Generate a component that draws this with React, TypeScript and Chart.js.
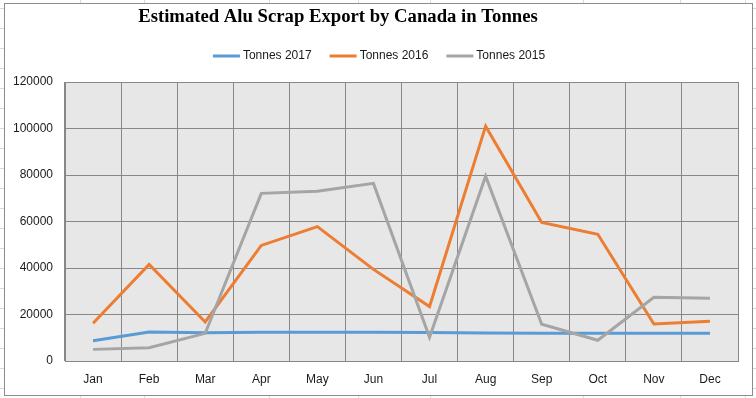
import React, { useEffect, useRef } from "react";
import { Chart, registerables } from "chart.js";

Chart.register(...registerables);

const titleText = "Estimated Alu Scrap Export by Canada in Tonnes";
const months = ["Jan", "Feb", "Mar", "Apr", "May", "Jun", "Jul", "Aug", "Sep", "Oct", "Nov", "Dec"];
const seriesNames = ["Tonnes 2017", "Tonnes 2016", "Tonnes 2015"];
const tonnes2017 = [8700, 12500, 12200, 12400, 12400, 12400, 12300, 12000, 11900, 11900, 11900, 11900];
const tonnes2016 = [16200, 41500, 16800, 49700, 57800, 39400, 23400, 101000, 59600, 54500, 15900, 17100];
const tonnes2015 = [5000, 5700, 11900, 72100, 73000, 76400, 10200, 79500, 15800, 8900, 27400, 27000];
const yMin = 0;
const yMax = 120000;
const yStep = 20000;

const colors = ["#5b9bd5", "#ed7d31", "#a5a5a5"];
const gridColor = "#878787";
const textColor = "#1a1a1a";
const sansFont = "'Liberation Sans', Arial, sans-serif";

const decorPlugin = {
  id: "decor",
  beforeDraw(chart: any) {
    const { ctx, chartArea } = chart;
    ctx.save();
    ctx.fillStyle = "#e7e7e7";
    ctx.fillRect(chartArea.left, chartArea.top, chartArea.right - chartArea.left, chartArea.bottom - chartArea.top);
    ctx.restore();
  },
  afterDraw(chart: any) {
    const { ctx } = chart;
    ctx.save();
    // Title
    ctx.font = "bold 18.7px 'Liberation Serif', 'Times New Roman', serif";
    ctx.fillStyle = "#000";
    ctx.textAlign = "center";
    ctx.textBaseline = "alphabetic";
    ctx.fillText(titleText, 333, 18);
    // Legend
    ctx.font = "12px " + sansFont;
    const lineW = 27;
    const gap = 3;
    const itemGap = 18;
    const widths = seriesNames.map((n) => lineW + gap + ctx.measureText(n).width);
    const total = widths.reduce((a, b) => a + b, 0) + itemGap * (widths.length - 1);
    let x = 374 - total / 2;
    const y = 52;
    seriesNames.forEach((n, i) => {
      ctx.fillStyle = colors[i];
      ctx.fillRect(x, y - 1.5, lineW, 3);
      ctx.fillStyle = textColor;
      ctx.textAlign = "left";
      ctx.textBaseline = "middle";
      ctx.fillText(n, x + lineW + gap, y);
      x += widths[i] + itemGap;
    });
    ctx.restore();
  },
};

function ChartView() {
  const ref = useRef<HTMLCanvasElement | null>(null);
  useEffect(() => {
    if (!ref.current) return;
    const mk = (label: string, data: number[], i: number, order: number) => ({
      label,
      data,
      borderColor: colors[i],
      backgroundColor: colors[i],
      borderWidth: 3,
      pointRadius: 0,
      pointHoverRadius: 0,
      tension: 0,
      fill: false,
      order,
    });
    const chart = new Chart(ref.current, {
      type: "line",
      data: {
        labels: months,
        datasets: [
          mk(seriesNames[0], tonnes2017, 0, 3),
          mk(seriesNames[1], tonnes2016, 1, 2),
          mk(seriesNames[2], tonnes2015, 2, 1),
        ],
      },
      options: {
        animation: false,
        responsive: false,
        maintainAspectRatio: false,
        devicePixelRatio: 1,
        layout: { padding: { top: 78, right: 14, bottom: 0, left: 0 } },
        plugins: {
          legend: { display: false },
          title: { display: false },
          tooltip: { enabled: false },
        },
        scales: {
          x: {
            offset: true,
            grid: { offset: true, color: gridColor, lineWidth: 1, drawTicks: false },
            border: { display: true, color: gridColor, width: 1 },
            ticks: { color: textColor, font: { family: sansFont, size: 12 }, padding: 11, maxRotation: 0 },
            afterFit(scale: any) {
              scale.height = 34;
            },
          },
          y: {
            min: yMin,
            max: yMax,
            grid: { color: gridColor, lineWidth: 1, drawTicks: false },
            border: { display: true, color: gridColor, width: 1 },
            ticks: {
              stepSize: yStep,
              color: textColor,
              font: { family: sansFont, size: 12 },
              padding: 12,
              callback: (v: any) => String(v),
            },
            afterFit(scale: any) {
              scale.width = 60;
            },
          },
        },
      },
      plugins: [decorPlugin],
    });
    return () => chart.destroy();
  }, []);
  return <canvas ref={ref} width={747} height={391} style={{ display: "block", width: 747, height: 391 }} />;
}

const sheetCols = [80, 144, 269, 358, 430, 583, 680, 745];
const sheetRows = [8, 28, 48, 68, 88, 108, 128, 148, 168, 188, 208, 228, 248, 268, 288, 308, 328, 348, 368, 388];

export default function App() {
  return (
    <div style={{ position: "fixed", left: 0, top: 0, width: 756, height: 398, background: "#fff", overflow: "hidden" }}>
      {sheetCols.map((x) => (
        <div key={"c" + x} style={{ position: "absolute", left: x, top: 0, width: 1, height: 398, background: "#d9d9d9" }} />
      ))}
      {sheetRows.map((y) => (
        <div key={"r" + y} style={{ position: "absolute", left: 0, top: y, width: 756, height: 1, background: "#d9d9d9" }} />
      ))}
      <div
        style={{
          position: "absolute",
          left: 4,
          top: 3,
          width: 747,
          height: 391,
          border: "1px solid #8c8c8c",
          background: "#fff",
        }}
      >
        <ChartView />
      </div>
    </div>
  );
}
